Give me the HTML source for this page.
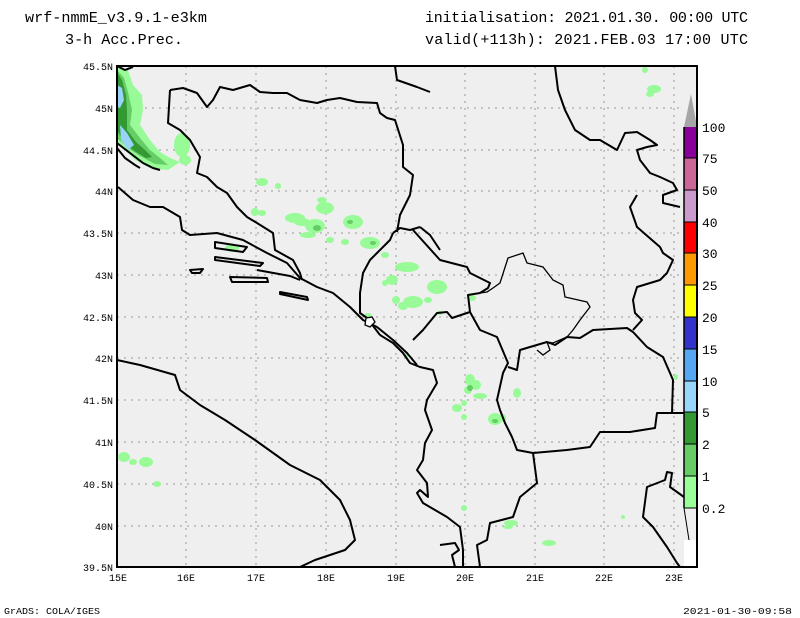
<!DOCTYPE html>
<html><head><meta charset="utf-8"><style>
body{margin:0;background:#fff;}
svg{display:block;font-family:"Liberation Mono","DejaVu Sans Mono",monospace;}
</style></head><body>
<svg width="800" height="618" viewBox="0 0 800 618" xmlns="http://www.w3.org/2000/svg">
<rect width="800" height="618" fill="#fff"/>
<!-- map bg -->
<rect x="117" y="66" width="580" height="501" fill="#efefef"/>
<rect x="684" y="540" width="13" height="27" fill="#fff"/>
<!-- grid -->
<g stroke="#999" stroke-width="1" stroke-dasharray="2,5">
<line x1="186" y1="66" x2="186" y2="567"/><line x1="256" y1="66" x2="256" y2="567"/><line x1="326" y1="66" x2="326" y2="567"/><line x1="396" y1="66" x2="396" y2="567"/><line x1="465" y1="66" x2="465" y2="567"/><line x1="535" y1="66" x2="535" y2="567"/><line x1="604" y1="66" x2="604" y2="567"/><line x1="674" y1="66" x2="674" y2="567"/>
<line x1="117" y1="108" x2="684" y2="108"/><line x1="117" y1="150" x2="684" y2="150"/><line x1="117" y1="191" x2="684" y2="191"/><line x1="117" y1="233" x2="684" y2="233"/><line x1="117" y1="275" x2="684" y2="275"/><line x1="117" y1="317" x2="684" y2="317"/><line x1="117" y1="358" x2="684" y2="358"/><line x1="117" y1="400" x2="684" y2="400"/><line x1="117" y1="442" x2="684" y2="442"/><line x1="117" y1="484" x2="684" y2="484"/><line x1="117" y1="526" x2="684" y2="526"/>
</g>
<!-- precip -->
<g fill="#98fb98">
<polygon points="117,66 128,70 133,85 142,95 143,110 140,125 150,140 160,152 170,158 180,162 168,170 150,168 135,160 125,150 117,140"/>
<ellipse cx="182" cy="145" rx="8" ry="12"/><ellipse cx="185" cy="160" rx="6" ry="5"/>
<ellipse cx="262" cy="182" rx="6" ry="4"/><ellipse cx="255" cy="212" rx="4" ry="4"/>
<ellipse cx="262" cy="213" rx="4" ry="3"/><ellipse cx="278" cy="186" rx="3" ry="3"/>
<ellipse cx="295" cy="218" rx="10" ry="5"/><ellipse cx="302" cy="222" rx="8" ry="4"/>
<ellipse cx="322" cy="200" rx="5" ry="3"/><ellipse cx="315" cy="226" rx="10" ry="7"/><ellipse cx="308" cy="235" rx="8" ry="3"/>
<ellipse cx="325" cy="208" rx="9" ry="6"/><ellipse cx="353" cy="222" rx="10" ry="7"/><ellipse cx="370" cy="243" rx="10" ry="6"/>
<ellipse cx="330" cy="240" rx="4" ry="3"/><ellipse cx="345" cy="242" rx="4" ry="3"/>
<ellipse cx="232" cy="248" rx="7" ry="4"/><ellipse cx="385" cy="255" rx="4" ry="3"/>
<ellipse cx="407" cy="267" rx="12" ry="5"/><ellipse cx="392" cy="280" rx="6" ry="5"/><ellipse cx="437" cy="287" rx="10" ry="7"/>
<ellipse cx="413" cy="302" rx="10" ry="6"/><ellipse cx="396" cy="300" rx="4" ry="4"/><ellipse cx="385" cy="283" rx="3" ry="3"/>
<ellipse cx="403" cy="306" rx="5" ry="4"/><ellipse cx="428" cy="300" rx="4" ry="3"/><ellipse cx="440" cy="313" rx="3" ry="2"/>
<ellipse cx="368" cy="316" rx="4" ry="3"/><ellipse cx="472" cy="298" rx="4" ry="3"/><ellipse cx="645" cy="70" rx="3" ry="3"/>
<ellipse cx="654" cy="89" rx="7" ry="4"/><ellipse cx="650" cy="94" rx="4" ry="3"/>
<ellipse cx="470" cy="380" rx="5" ry="6"/><ellipse cx="476" cy="385" rx="5" ry="5"/><ellipse cx="468" cy="390" rx="4" ry="4"/>
<ellipse cx="480" cy="396" rx="7" ry="3"/><ellipse cx="457" cy="408" rx="5" ry="4"/><ellipse cx="464" cy="403" rx="3" ry="3"/>
<ellipse cx="464" cy="417" rx="3" ry="3"/><ellipse cx="495" cy="419" rx="7" ry="6"/><ellipse cx="503" cy="418" rx="3" ry="4"/>
<ellipse cx="517" cy="393" rx="4" ry="5"/><ellipse cx="407" cy="355" rx="2" ry="2"/><ellipse cx="406" cy="356" rx="2" ry="2"/>
<ellipse cx="124" cy="457" rx="6" ry="5"/><ellipse cx="133" cy="462" rx="4" ry="3"/><ellipse cx="146" cy="462" rx="7" ry="5"/><ellipse cx="157" cy="484" rx="4" ry="3"/>
<ellipse cx="464" cy="508" rx="3" ry="3"/><ellipse cx="511" cy="523" rx="7" ry="3"/><ellipse cx="549" cy="543" rx="7" ry="3"/>
<ellipse cx="508" cy="527" rx="5" ry="2"/><ellipse cx="623" cy="517" rx="2" ry="2"/><ellipse cx="676" cy="377" rx="2" ry="3"/>
</g>
<g fill="#66cc66">
<polygon points="117,70 124,78 128,92 132,110 130,125 140,138 150,150 160,158 168,165 155,164 140,156 128,148 117,138"/>
<ellipse cx="317" cy="228" rx="4" ry="3"/><ellipse cx="350" cy="222" rx="3" ry="2"/><ellipse cx="470" cy="388" rx="3" ry="3"/><ellipse cx="495" cy="421" rx="3" ry="2"/><ellipse cx="373" cy="243" rx="3" ry="2"/>
</g>
<g fill="#339933">
<polygon points="117,72 122,80 126,95 127,112 127,130 136,142 145,150 152,157 146,158 136,152 126,145 117,130"/>
</g>
<g fill="#99d4f8">
<polygon points="117,85 122,88 124,100 120,108 117,107"/>
<polygon points="120,125 127,133 134,145 128,150 121,140"/>
</g>
<!-- borders -->
<g fill="none" stroke="#000" stroke-width="2" stroke-linejoin="round">
<!-- Croatia/Bosnia coast -->
<polyline points="118,187 133,200 150,207 163,207 180,217 182,230 190,235 217,233 243,240 267,253 287,263 300,278 317,287 333,293 350,307 363,320 377,327 393,340 407,353 417,365"/>
<polyline points="117,143 130,153 143,163 153,168 160,170"/>
<polyline points="117,148 125,158 135,165 140,168"/>
<polyline points="117,66 125,70 133,67"/>
<!-- islands -->
<polygon points="215,242 247,247 243,252 215,248"/>
<polygon points="215,257 263,263 260,266 215,260"/>
<polygon points="190,270 203,269 200,273 192,273"/>
<polygon points="230,277 267,278 268,282 232,282"/>
<polygon points="280,292 307,297 308,300 280,294"/>
<polyline points="257,270 290,276 300,280"/>
<!-- Bosnia -->
<polyline points="170,90 183,88 197,93 207,107 213,100 220,87 233,90 250,85 260,92 273,93 287,93 300,100 317,103 327,100 340,98 357,102 377,103 380,113 387,118 395,120 403,145 403,167 413,175 410,195 400,215 397,232"/>
<polyline points="170,90 168,123 180,130 190,140 200,157 197,173 207,177 217,187 227,193 237,207 247,217 257,223 273,233 275,250 293,260 300,273 302,280"/>
<polyline points="395,66 397,80 417,87 430,92"/>
<polyline points="393,233 400,228 410,230 420,227"/>
<polyline points="393,233 390,240 383,247 377,253 370,260 363,273 360,293 360,313 367,318 380,335"/>
<!-- Montenegro / Serbia -->
<polyline points="413,230 440,260 467,267 470,273 490,283 488,288 480,293 468,295 470,312"/>
<polyline points="420,227 430,235 440,250"/>
<!-- Albania -->
<polyline points="380,335 393,343 403,353 410,363 420,367 433,370 437,383 427,400 425,410 432,430 425,443 423,460 417,470 427,483 428,497 420,490 417,493 423,503 447,517 460,527 463,550 463,567"/>
<polyline points="413,340 423,330 437,313 447,312 452,318 470,312 480,330 497,337 508,363 503,373 497,400 500,410 505,423 512,437 517,450 533,453 537,483 520,497 513,517 490,523 487,540 477,545 480,567"/>
<polyline points="440,545 455,543 459,550 452,555 455,567"/>
<!-- Macedonia -->
<polyline points="508,367 517,370 520,350 530,347 547,342 555,345 567,337 580,338 593,330 627,328 633,332 647,347 663,357 670,373 673,380 672,413 657,413 655,428 630,432 600,432 590,447 567,450 533,453"/>
<polyline points="672,413 684,413"/>
<!-- Greece NE -->
<polyline points="684,497 670,487 672,473 667,472 665,480 647,487 643,517 653,527 667,547 677,563 680,567"/>
<!-- Serbia/Bulgaria -->
<polyline points="633,330 642,320 635,313 633,300 637,287 660,280 667,273 673,260 663,253 660,247 637,227 630,207 637,195"/>
<polyline points="555,66 558,90 565,110 575,130 590,140 600,140 617,150 625,133 637,132 650,140 657,145 647,147 637,150 640,160 650,173 660,177 673,183 677,190 663,195 663,203 680,207"/>
<!-- Italy -->
<polyline points="117,360 140,365 175,375 180,390 200,405 225,420 255,440 290,465 320,480 340,500 350,520 355,540 345,550 315,560 300,567"/>
</g>
<!-- Kosovo -->
<polyline fill="none" stroke="#000" stroke-width="1.3" points="480,293 487,292 493,288 500,283 508,258 523,253 527,263 543,267 553,280 563,285 565,297 587,302 590,307 580,320 573,330 567,337 553,343 547,342 550,350 543,355 537,350"/>
<polygon fill="#fff" stroke="#000" stroke-width="1.3" points="366,318 372,317 375,322 370,327 365,325"/>
<!-- colorbar -->
<polygon points="684,127 697,127 691,94" fill="#a6a6a6"/>
<rect x="684" y="127" width="13" height="31" fill="#880099"/>
<rect x="684" y="158" width="13" height="32" fill="#cc6699"/>
<rect x="684" y="190" width="13" height="32" fill="#cc99cc"/>
<rect x="684" y="222" width="13" height="31" fill="#ff0000"/>
<rect x="684" y="253" width="13" height="32" fill="#ff9900"/>
<rect x="684" y="285" width="13" height="32" fill="#ffff00"/>
<rect x="684" y="317" width="13" height="32" fill="#3333cc"/>
<rect x="684" y="349" width="13" height="32" fill="#55a7f2"/>
<rect x="684" y="381" width="13" height="31" fill="#99d6fb"/>
<rect x="684" y="412" width="13" height="32" fill="#339933"/>
<rect x="684" y="444" width="13" height="32" fill="#66cc66"/>
<rect x="684" y="476" width="13" height="32" fill="#99ff99"/>
<g stroke="#000" stroke-width="1">
<line x1="684" y1="158" x2="697" y2="158"/><line x1="684" y1="190" x2="697" y2="190"/><line x1="684" y1="222" x2="697" y2="222"/><line x1="684" y1="253" x2="697" y2="253"/><line x1="684" y1="285" x2="697" y2="285"/><line x1="684" y1="317" x2="697" y2="317"/><line x1="684" y1="349" x2="697" y2="349"/><line x1="684" y1="381" x2="697" y2="381"/><line x1="684" y1="412" x2="697" y2="412"/><line x1="684" y1="444" x2="697" y2="444"/><line x1="684" y1="476" x2="697" y2="476"/><line x1="684" y1="508" x2="697" y2="508"/>
<line x1="684" y1="508" x2="689" y2="540"/>
</g>
<!-- frame -->
<rect x="117" y="66" width="580" height="501" fill="none" stroke="#000" stroke-width="2"/>
<line x1="684" y1="127" x2="684" y2="508" stroke="#000" stroke-width="1.5"/>
<!-- colorbar labels -->
<g font-size="13" fill="#000">
<text x="702" y="132">100</text><text x="702" y="163">75</text><text x="702" y="195">50</text><text x="702" y="227">40</text><text x="702" y="258">30</text><text x="702" y="290">25</text><text x="702" y="322">20</text><text x="702" y="354">15</text><text x="702" y="386">10</text><text x="702" y="417">5</text><text x="702" y="449">2</text><text x="702" y="481">1</text><text x="702" y="513">0.2</text>
</g>
<!-- axis labels -->
<g font-size="10" fill="#000" text-anchor="end">
<text x="113" y="70">45.5N</text><text x="113" y="112">45N</text><text x="113" y="154">44.5N</text><text x="113" y="195">44N</text><text x="113" y="237">43.5N</text><text x="113" y="279">43N</text><text x="113" y="321">42.5N</text><text x="113" y="362">42N</text><text x="113" y="404">41.5N</text><text x="113" y="446">41N</text><text x="113" y="488">40.5N</text><text x="113" y="530">40N</text><text x="113" y="571">39.5N</text>
</g>
<g font-size="10" fill="#000" text-anchor="middle">
<text x="118" y="581">15E</text><text x="186" y="581">16E</text><text x="256" y="581">17E</text><text x="326" y="581">18E</text><text x="396" y="581">19E</text><text x="465" y="581">20E</text><text x="535" y="581">21E</text><text x="604" y="581">22E</text><text x="674" y="581">23E</text>
</g>
<!-- titles -->
<g font-size="15" fill="#000">
<text x="25" y="22" textLength="182" lengthAdjust="spacingAndGlyphs">wrf-nmmE_v3.9.1-e3km</text>
<text x="65" y="44" textLength="118" lengthAdjust="spacingAndGlyphs">3-h Acc.Prec.</text>
<text x="425" y="22" textLength="323" lengthAdjust="spacing">initialisation: 2021.01.30.  00:00 UTC</text>
<text x="425" y="44" textLength="323" lengthAdjust="spacing">valid(+113h): 2021.FEB.03 17:00 UTC</text>
</g>
<g font-size="9" fill="#000">
<text x="4" y="614" textLength="96" lengthAdjust="spacingAndGlyphs">GrADS: COLA/IGES</text>
<text x="683" y="614" textLength="109" lengthAdjust="spacingAndGlyphs">2021-01-30-09:58</text>
</g>
</svg>
</body></html>
